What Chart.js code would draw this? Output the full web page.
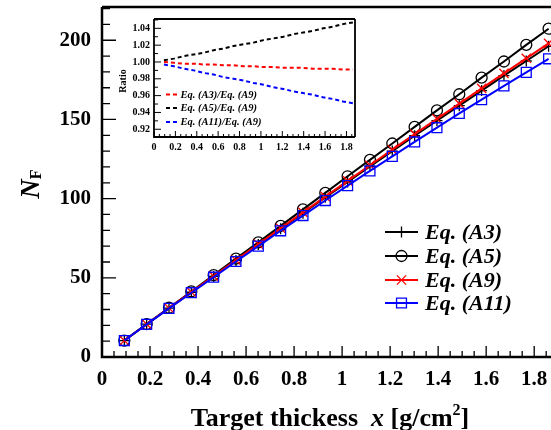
<!DOCTYPE html>
<html>
<head>
<meta charset="utf-8">
<script src="https://cdn.jsdelivr.net/npm/chart.js@4.4.1/dist/chart.umd.min.js"></script>
<style>
  html, body { margin: 0; padding: 0; background: #fff; }
  #wrap { position: relative; width: 551px; height: 430px; overflow: hidden; }
  #main { position: absolute; left: 0; top: 0; }
  #inset { position: absolute; left: 100px; top: 0; }
</style>
</head>
<body>
<div id="wrap">
  <canvas id="main" width="551" height="430"></canvas>
  <canvas id="inset" width="270" height="160"></canvas>
</div>
<script>
// target thickness x [g/cm2]
const thickness = [0.093, 0.186, 0.279, 0.372, 0.465, 0.558, 0.651, 0.744, 0.837, 0.930,
                   1.023, 1.116, 1.209, 1.302, 1.395, 1.488, 1.581, 1.674, 1.767, 1.860];

// N_F for each equation
const nfA3  = [10.4, 20.7, 30.8, 40.9, 50.9, 61.0, 71.0, 81.0, 90.8, 100.8,
               110.5, 120.4, 130.0, 139.7, 149.3, 158.7, 168.2, 177.7, 186.9, 196.2];
const nfA5  = [10.4, 20.8, 31.1, 41.4, 51.7, 62.1, 72.4, 82.8, 93.2, 103.6,
               114.1, 124.5, 134.8, 145.3, 155.7, 165.9, 176.4, 186.6, 197.1, 207.3];
const nfA9  = [10.4, 20.7, 30.9, 41.0, 51.1, 61.2, 71.3, 81.3, 91.3, 101.3,
               111.2, 121.1, 130.9, 140.7, 150.4, 160.0, 169.6, 179.1, 188.6, 198.0];
const nfA11 = [10.4, 20.6, 30.7, 40.6, 50.4, 60.3, 70.0, 79.7, 89.3, 98.8,
               108.2, 117.5, 126.7, 135.8, 144.8, 153.8, 162.5, 171.2, 179.7, 188.3];

// ratios to Eq. (A9), inset
const ratioA3  = [1.000, 0.999, 0.998, 0.998, 0.997, 0.997, 0.996, 0.996, 0.995, 0.995,
                  0.994, 0.994, 0.993, 0.993, 0.993, 0.992, 0.992, 0.992, 0.991, 0.991];
const ratioA5  = [1.002, 1.004, 1.007, 1.009, 1.011, 1.014, 1.016, 1.019, 1.021, 1.023,
                  1.026, 1.028, 1.030, 1.033, 1.035, 1.037, 1.040, 1.042, 1.045, 1.047];
const ratioA11 = [0.997, 0.995, 0.992, 0.990, 0.987, 0.985, 0.982, 0.980, 0.978, 0.975,
                  0.973, 0.970, 0.968, 0.965, 0.963, 0.961, 0.958, 0.956, 0.953, 0.951];

const seriesNames = ['Eq. (A3)', 'Eq. (A5)', 'Eq. (A9)', 'Eq. (A11)'];
const ratioNames = ['Eq. (A3)/Eq. (A9)', 'Eq. (A5)/Eq. (A9)', 'Eq. (A11)/Eq. (A9)'];

const xTickValues = [0, 0.2, 0.4, 0.6, 0.8, 1, 1.2, 1.4, 1.6, 1.8];
const yTickValues = [0, 50, 100, 150, 200];
const insetYTicks = [0.92, 0.94, 0.96, 0.98, 1.00, 1.02, 1.04];

const SERIF = '"Liberation Serif", "Times New Roman", serif';

function points(ys) {
    return thickness.map((x, i) => ({x: x, y: ys[i]}));
}

function setTicks(values) {
    return function (scale) {
        scale.ticks = values.map(v => ({value: v}));
    };
}

// fixed box size, no extra room for overhanging labels
function fixSize(w, h) {
    return function (s) {
        if (w) s.width = w;
        if (h) s.height = h;
        s.paddingTop = 0; s.paddingBottom = 0;
        s.paddingLeft = 0; s.paddingRight = 0;
    };
}

function marker(ctx, style, x, y, r) {
    ctx.beginPath();
    if (style === 'circle') {
        ctx.arc(x, y, r, 0, Math.PI * 2);
    } else if (style === 'cross') {
        ctx.moveTo(x - r, y); ctx.lineTo(x + r, y);
        ctx.moveTo(x, y - r); ctx.lineTo(x, y + r);
    } else if (style === 'crossRot') {
        const d = r * Math.SQRT1_2;
        ctx.moveTo(x - d, y - d); ctx.lineTo(x + d, y + d);
        ctx.moveTo(x - d, y + d); ctx.lineTo(x + d, y - d);
    } else if (style === 'rect') {
        const s = r * Math.SQRT1_2;
        ctx.rect(x - s, y - s, 2 * s, 2 * s);
    }
    ctx.stroke();
}

function drawRuns(ctx, runs, cx, y) {
    let total = 0;
    runs.forEach(r => { ctx.font = r.font; r.w = ctx.measureText(r.text).width; total += r.w; });
    let x = cx - total / 2;
    runs.forEach(r => {
        ctx.font = r.font;
        ctx.fillText(r.text, x, y + (r.dy || 0));
        x += r.w;
    });
}

// inward ROOT-like ticks and frame
const frameTicks = {
    id: 'frameTicks',
    beforeDraw(chart, args, o) {
        if (!o.whiteArea) return;
        const {ctx, chartArea: a} = chart;
        ctx.save();
        ctx.fillStyle = '#fff';
        ctx.fillRect(a.left, a.top, a.width, a.height);
        ctx.restore();
    },
    afterDraw(chart, args, o) {
        const {ctx, chartArea: a, scales} = chart;
        const sx = scales.x, sy = scales.y;
        ctx.save();
        ctx.strokeStyle = '#000';
        ctx.lineWidth = o.tickWidth;
        ctx.beginPath();
        for (let k = Math.ceil(sx.min / o.xStep - 1e-6); k * o.xStep <= sx.max + 1e-9; k++) {
            const px = sx.getPixelForValue(k * o.xStep);
            const len = k % o.xEvery === 0 ? o.xMajor : o.xMinor;
            ctx.moveTo(px, a.bottom);
            ctx.lineTo(px, a.bottom - len);
        }
        for (let k = Math.ceil(sy.min / o.yStep - 1e-6); k * o.yStep <= sy.max + 1e-9; k++) {
            const py = sy.getPixelForValue(k * o.yStep);
            const len = k % o.yEvery === 0 ? o.yMajor : o.yMinor;
            ctx.moveTo(a.left, py);
            ctx.lineTo(a.left + len, py);
        }
        ctx.stroke();

        ctx.lineWidth = o.frameWidth;
        ctx.beginPath();
        ctx.moveTo(a.left, a.top);
        ctx.lineTo(a.left, a.bottom);
        ctx.lineTo(a.right, a.bottom);
        ctx.moveTo(a.left, a.top);
        ctx.lineTo(a.right, a.top);
        if (o.closeRight) {
            ctx.moveTo(a.right, a.top);
            ctx.lineTo(a.right, a.bottom);
        }
        ctx.stroke();
        ctx.restore();
    }
};

// axis titles and legend for the main pad
const mainDecor = {
    id: 'mainDecor',
    afterDraw(chart) {
        const ctx = chart.ctx;
        ctx.save();
        ctx.fillStyle = '#000';
        ctx.textBaseline = 'alphabetic';
        ctx.textAlign = 'left';

        drawRuns(ctx, [
            {text: 'Target thickess  ', font: 'bold 26px ' + SERIF},
            {text: 'x', font: 'italic bold 26px ' + SERIF},
            {text: ' [g/cm', font: 'bold 26px ' + SERIF},
            {text: '2', font: 'bold 16px ' + SERIF, dy: -11},
            {text: ']', font: 'bold 26px ' + SERIF}
        ], 330, 426);

        ctx.save();
        ctx.translate(39, 184);
        ctx.rotate(-Math.PI / 2);
        drawRuns(ctx, [
            {text: 'N', font: 'italic bold 27px ' + SERIF},
            {text: 'F', font: 'bold 16px ' + SERIF, dy: 2}
        ], 0, 0);
        ctx.restore();

        // legend, order as in the datasets
        const rowsY = [232, 256, 280, 303];
        chart.data.datasets.forEach((ds, i) => {
            const y = rowsY[i];
            ctx.strokeStyle = ds.borderColor;
            ctx.lineWidth = ds.borderWidth;
            ctx.beginPath();
            ctx.moveTo(385, y);
            ctx.lineTo(418, y);
            ctx.stroke();
            ctx.lineWidth = ds.pointBorderWidth;
            marker(ctx, ds.pointStyle, 401.5, y, ds.pointRadius);
            ctx.fillStyle = '#000';
            ctx.font = 'italic bold 22px ' + SERIF;
            ctx.textBaseline = 'middle';
            ctx.fillText(ds.label, 425, y + 1);
        });
        ctx.restore();
    }
};

const insetDecor = {
    id: 'insetDecor',
    afterDraw(chart) {
        const ctx = chart.ctx;
        ctx.save();
        ctx.fillStyle = '#000';
        ctx.textAlign = 'center';
        ctx.textBaseline = 'middle';
        ctx.save();
        ctx.translate(23.5, 81);
        ctx.rotate(-Math.PI / 2);
        ctx.font = 'bold 10px ' + SERIF;
        ctx.fillText('Ratio', 0, 0);
        ctx.restore();

        const rowsY = [94.5, 108, 122];
        chart.data.datasets.forEach((ds, i) => {
            const y = rowsY[i];
            ctx.strokeStyle = ds.borderColor;
            ctx.lineWidth = ds.borderWidth;
            ctx.setLineDash(ds.borderDash);
            ctx.beginPath();
            ctx.moveTo(66, y);
            ctx.lineTo(78, y);
            ctx.stroke();
            ctx.setLineDash([]);
            ctx.textAlign = 'left';
            ctx.font = 'italic bold 10.5px ' + SERIF;
            ctx.fillText(ds.label, 80.5, y + 0.5);
        });
        ctx.restore();
    }
};

function mainDataset(i, values, color, style, radius, order) {
    return {
        label: seriesNames[i],
        data: points(values),
        borderColor: color,
        backgroundColor: 'transparent',
        borderWidth: 2,
        pointStyle: style,
        pointRadius: radius,
        pointBorderWidth: 1.3,
        pointBorderColor: color,
        pointBackgroundColor: 'transparent',
        order: order
    };
}

new Chart(document.getElementById('main'), {
    type: 'line',
    data: {
        datasets: [
            mainDataset(0, nfA3, '#000000', 'cross', 5.5, 4),
            mainDataset(1, nfA5, '#000000', 'circle', 5.5, 3),
            mainDataset(2, nfA9, '#ff0000', 'crossRot', 6.5, 2),
            mainDataset(3, nfA11, '#0000ff', 'rect', 7, 1)
        ]
    },
    options: {
        responsive: false,
        animation: false,
        events: [],
        layout: {autoPadding: false, padding: {top: 7, right: 0, left: 0, bottom: 0}},
        scales: {
            x: {
                type: 'linear',
                min: 0,
                max: 1.87,
                afterBuildTicks: setTicks(xTickValues),
                afterFit: fixSize(0, 73),
                grid: {display: false, drawTicks: false},
                border: {display: false},
                ticks: {
                    padding: 10,
                    color: '#000',
                    maxRotation: 0,
                    autoSkip: false,
                    font: {family: SERIF, size: 21, weight: 'bold'},
                    callback: v => String(+v.toFixed(1))
                }
            },
            y: {
                type: 'linear',
                min: 0,
                max: 221,
                afterBuildTicks: setTicks(yTickValues),
                afterFit: fixSize(102, 0),
                grid: {display: false, drawTicks: false},
                border: {display: false},
                ticks: {
                    padding: 11,
                    color: '#000',
                    font: {family: SERIF, size: 21, weight: 'bold'},
                    callback: v => String(v)
                }
            }
        },
        plugins: {
            legend: {display: false},
            tooltip: {enabled: false},
            frameTicks: {
                tickWidth: 1.3, frameWidth: 2.5, closeRight: false,
                xStep: 0.05, xEvery: 4, xMajor: 11, xMinor: 6,
                yStep: 10, yEvery: 5, yMajor: 14, yMinor: 8
            }
        }
    },
    plugins: [frameTicks, mainDecor]
});

function ratioDataset(i, values, color) {
    return {
        label: ratioNames[i],
        data: points(values),
        borderColor: color,
        backgroundColor: 'transparent',
        borderWidth: 2,
        borderDash: [4, 3],
        pointRadius: 0
    };
}

new Chart(document.getElementById('inset'), {
    type: 'line',
    data: {
        datasets: [
            ratioDataset(0, ratioA3, '#ff0000'),
            ratioDataset(1, ratioA5, '#000000'),
            ratioDataset(2, ratioA11, '#0000ff')
        ]
    },
    options: {
        responsive: false,
        animation: false,
        events: [],
        layout: {autoPadding: false, padding: {top: 19, right: 15, left: 0, bottom: 0}},
        scales: {
            x: {
                type: 'linear',
                min: 0,
                max: 1.88,
                afterBuildTicks: setTicks(xTickValues),
                afterFit: fixSize(0, 23),
                grid: {display: false, drawTicks: false},
                border: {display: false},
                ticks: {
                    padding: 4,
                    color: '#000',
                    maxRotation: 0,
                    autoSkip: false,
                    font: {family: SERIF, size: 10, weight: 'bold'},
                    callback: v => String(+v.toFixed(1))
                }
            },
            y: {
                type: 'linear',
                min: 0.9108,
                max: 1.0511,
                afterBuildTicks: setTicks(insetYTicks),
                afterFit: fixSize(54, 0),
                grid: {display: false, drawTicks: false},
                border: {display: false},
                ticks: {
                    padding: 4,
                    color: '#000',
                    font: {family: SERIF, size: 10, weight: 'bold'},
                    callback: v => v.toFixed(2)
                }
            }
        },
        plugins: {
            legend: {display: false},
            tooltip: {enabled: false},
            frameTicks: {
                whiteArea: true,
                tickWidth: 1, frameWidth: 1.8, closeRight: true,
                xStep: 0.05, xEvery: 4, xMajor: 6, xMinor: 3,
                yStep: 0.01, yEvery: 2, yMajor: 7, yMinor: 4
            }
        }
    },
    plugins: [frameTicks, insetDecor]
});
</script>
</body>
</html>
